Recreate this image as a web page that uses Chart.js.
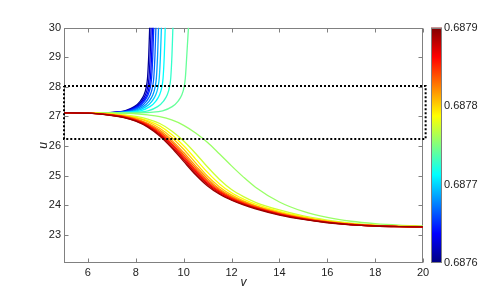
<!DOCTYPE html>
<html><head><meta charset="utf-8">
<script src="https://cdn.jsdelivr.net/npm/chart.js@4.4.0/dist/chart.umd.min.js"></script>
<style>html,body{margin:0;padding:0;background:#fff}canvas{display:block}</style>
</head><body>
<canvas id="c" width="498" height="296"></canvas>
<script>
// ---- data ----
const xTicks = [6, 8, 10, 12, 14, 16, 18, 20];
const yTicks = [23, 24, 25, 26, 27, 28, 29, 30];
const cbTicks = [0.6876, 0.6877, 0.6878, 0.6879];

// lower branch: u at common v grid (green ... dark red)
const vGrid = [5, 6, 7, 7.5, 8, 8.5, 9, 9.5, 10, 10.5, 11, 11.5, 12, 12.5, 13, 14, 15, 16, 17, 18, 19, 20];
const lowerU = [
  [27.12,27.12,27.12,27.11,27.09,27.05,26.99,26.88,26.70,26.44,26.12,25.73,25.33,24.95,24.61,24.11,23.79,23.59,23.46,23.38,23.33,23.30],
  [27.12,27.12,27.09,27.05,27.00,26.91,26.76,26.51,26.17,25.75,25.29,24.87,24.53,24.29,24.10,23.84,23.64,23.50,23.40,23.33,23.29,23.28],
  [27.12,27.12,27.08,27.04,26.97,26.86,26.68,26.39,26.01,25.56,25.11,24.72,24.42,24.21,24.04,23.79,23.61,23.47,23.38,23.32,23.29,23.28],
  [27.12,27.11,27.07,27.02,26.95,26.82,26.60,26.29,25.89,25.43,24.98,24.62,24.35,24.15,23.99,23.76,23.59,23.46,23.37,23.32,23.29,23.28],
  [27.12,27.11,27.06,27.01,26.92,26.77,26.54,26.20,25.78,25.33,24.90,24.55,24.30,24.12,23.97,23.74,23.57,23.45,23.36,23.31,23.29,23.28],
  [27.12,27.11,27.05,27.00,26.90,26.74,26.49,26.14,25.71,25.26,24.84,24.51,24.27,24.09,23.95,23.72,23.56,23.44,23.36,23.31,23.28,23.27],
  [27.12,27.11,27.04,26.99,26.88,26.71,26.45,26.08,25.65,25.19,24.79,24.47,24.24,24.07,23.93,23.71,23.55,23.43,23.35,23.31,23.28,23.27],
  [27.12,27.11,27.04,26.98,26.87,26.69,26.41,26.04,25.59,25.14,24.74,24.44,24.22,24.05,23.91,23.70,23.54,23.42,23.35,23.30,23.28,23.27],
  [27.12,27.11,27.04,26.97,26.85,26.66,26.38,25.99,25.54,25.08,24.70,24.40,24.19,24.03,23.90,23.68,23.53,23.42,23.34,23.30,23.28,23.27],
  [27.12,27.11,27.03,26.96,26.84,26.64,26.34,25.94,25.48,25.03,24.65,24.37,24.17,24.01,23.88,23.67,23.52,23.41,23.34,23.30,23.28,23.27]
];
const lowerColors = ['#99ff66','#ccff33','#ffff00','#ffcc00','#ff9900','#ff6600','#ff3300','#ff0000','#cc0000','#990000'];

// upper branch: v at which each curve reaches these u levels (dark blue ... green)
const upperULevels = [27.12, 27.12, 27.125, 27.14, 27.19, 27.33, 27.52, 27.72, 28.0, 28.3, 29.05, 30.0];
const upperV = [
  [5, 6.04, 6.54, 7.04, 7.54, 7.94, 8.19, 8.34, 8.44, 8.49, 8.54, 8.58],
  [5, 6.10, 6.60, 7.10, 7.60, 8.00, 8.25, 8.40, 8.50, 8.55, 8.60, 8.64],
  [5, 6.16, 6.66, 7.16, 7.66, 8.06, 8.31, 8.46, 8.56, 8.61, 8.66, 8.70],
  [5, 6.21, 6.71, 7.21, 7.71, 8.11, 8.36, 8.51, 8.61, 8.66, 8.71, 8.75],
  [5, 6.30, 6.80, 7.30, 7.80, 8.20, 8.45, 8.60, 8.70, 8.75, 8.80, 8.84],
  [5, 6.41, 6.91, 7.41, 7.91, 8.31, 8.56, 8.71, 8.81, 8.86, 8.91, 8.95],
  [5, 6.53, 7.03, 7.53, 8.03, 8.43, 8.68, 8.83, 8.93, 8.98, 9.03, 9.07],
  [5, 6.69, 7.19, 7.69, 8.19, 8.59, 8.84, 8.99, 9.09, 9.14, 9.19, 9.23],
  [5, 7.01, 7.51, 8.01, 8.51, 8.91, 9.16, 9.31, 9.41, 9.46, 9.51, 9.55],
  [5, 7.62, 8.12, 8.62, 9.12, 9.52, 9.77, 9.92, 10.02, 10.07, 10.13, 10.20]
];
const upperColors = ['#000099','#0000cc','#0000ff','#0033ff','#0066ff','#0099ff','#00ccff','#00ffff','#33ffcc','#66ff99'];

// dotted rectangle
const boxV = [5, 20.11, 20.11, 5, 5];
const boxU = [28.03, 28.03, 26.24, 26.24, 28.03];

// ---- build datasets ----
const datasets = [];
datasets.push({
  data: boxV.map((v, i) => ({x: v, y: boxU[i]})),
  borderColor: '#000', borderWidth: 2, borderDash: [2, 2], tension: 0,
  pointRadius: 0, clip: false, fill: false
});
for (let k = lowerU.length - 1; k >= 0; k--) {
  datasets.push({
    data: vGrid.map((v, i) => ({x: v, y: lowerU[k][i]})),
    borderColor: lowerColors[k], borderWidth: 1.3, pointRadius: 0,
    cubicInterpolationMode: 'monotone', fill: false
  });
}
for (let k = upperV.length - 1; k >= 0; k--) {
  datasets.push({
    data: upperV[k].map((v, i) => ({x: v, y: upperULevels[i]})),
    borderColor: upperColors[k], borderWidth: 1.3, pointRadius: 0,
    cubicInterpolationMode: 'monotone', fill: false
  });
}

const FONT = {family: '"Liberation Sans", Arial, sans-serif', size: 11};
const TXT = '#222';

const framePlugin = {
  id: 'frame',
  beforeDatasetsDraw(chart) {
    const {ctx, chartArea: a, scales} = chart;
    ctx.save();
    ctx.strokeStyle = '#808080';
    ctx.lineWidth = 1;
    const L = Math.round(a.left) + 0.5, R = Math.round(a.right) - 0.5;
    const T = Math.round(a.top) + 0.5, B = Math.round(a.bottom) - 0.5;
    ctx.strokeRect(L, T, R - L, B - T);
    ctx.beginPath();
    xTicks.forEach(v => {
      const p = Math.round(scales.x.getPixelForValue(v)) + 0.5;
      ctx.moveTo(p, B); ctx.lineTo(p, B - 4);
      ctx.moveTo(p, T); ctx.lineTo(p, T + 4);
    });
    yTicks.forEach(v => {
      const p = Math.round(scales.y.getPixelForValue(v)) + 0.5;
      ctx.moveTo(L, p); ctx.lineTo(L + 4, p);
      ctx.moveTo(R, p); ctx.lineTo(R - 4, p);
    });
    ctx.stroke();
    ctx.restore();
  },
  afterDraw(chart) {
    const {ctx, chartArea: a} = chart;
    const x0 = 431, x1 = 442;
    ctx.save();
    const g = ctx.createLinearGradient(0, a.bottom, 0, a.top);
    g.addColorStop(0, '#000080');
    g.addColorStop(0.125, '#0000ff');
    g.addColorStop(0.375, '#00ffff');
    g.addColorStop(0.625, '#ffff00');
    g.addColorStop(0.875, '#ff0000');
    g.addColorStop(1, '#800000');
    ctx.fillStyle = g;
    ctx.fillRect(x0, a.top, x1 - x0, a.bottom - a.top);
    ctx.strokeStyle = '#808080';
    ctx.lineWidth = 1;
    ctx.strokeRect(x0 + 0.5, Math.round(a.top) + 0.5, x1 - x0 - 1, Math.round(a.bottom - a.top) - 1);
    ctx.restore();
  }
};

new Chart(document.getElementById('c'), {
  type: 'line',
  data: {datasets},
  options: {
    responsive: false, animation: false, devicePixelRatio: 1,
    layout: {padding: {top: 22, left: 0, right: 0, bottom: 0}},
    plugins: {legend: {display: false}, tooltip: {enabled: false}},
    scales: {
      x: {
        type: 'linear', min: 5, max: 20,
        afterBuildTicks: s => { s.ticks = xTicks.map(v => ({value: v})); },
        afterFit: s => { s.height = 33; },
        grid: {display: false, drawTicks: false}, border: {display: false},
        ticks: {font: FONT, color: TXT, padding: 3, maxRotation: 0},
        title: {display: true, text: 'v', font: {family: FONT.family, size: 12, style: 'italic'}, color: TXT, padding: {top: 0, bottom: 6}}
      },
      y: {
        type: 'linear', min: 22.05, max: 30,
        afterBuildTicks: s => { s.ticks = yTicks.map(v => ({value: v})); },
        afterFit: s => { s.width = 64; },
        grid: {display: false, drawTicks: false}, border: {display: false},
        ticks: {font: FONT, color: TXT, padding: 3},
        title: {display: true, text: 'u', font: {family: FONT.family, size: 12, style: 'italic'}, color: TXT, padding: {top: 36, bottom: 0}}
      },
      cb: {
        type: 'linear', position: 'right', min: 0.6876, max: 0.6879,
        afterBuildTicks: s => { s.ticks = cbTicks.map(v => ({value: v})); },
        afterFit: s => { s.width = 75; },
        grid: {display: false, drawTicks: false}, border: {display: false},
        ticks: {font: FONT, color: TXT, padding: 21, callback: v => Number(v).toFixed(4)}
      }
    }
  },
  plugins: [framePlugin]
});
</script>
</body></html>
